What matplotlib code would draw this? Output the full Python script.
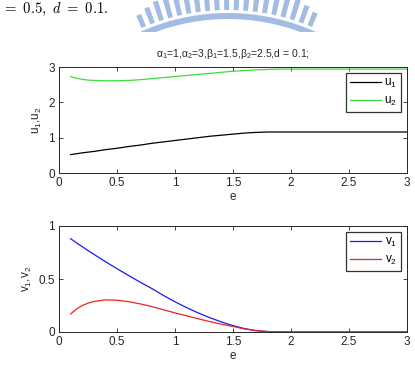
import numpy as np
import matplotlib
matplotlib.use('Agg')
import matplotlib.pyplot as plt
from matplotlib.patches import Polygon

plt.rcParams['font.family'] = ['Liberation Sans', 'DejaVu Sans']
plt.rcParams['mathtext.fontset'] = 'custom'
plt.rcParams['mathtext.rm'] = 'Liberation Sans'
plt.rcParams['mathtext.it'] = 'Liberation Sans:italic'

# data
e = [0.1, 0.15, 0.2, 0.25, 0.3, 0.4, 0.5, 0.6, 0.7, 0.8, 0.9, 1.0, 1.1, 1.2,
     1.3, 1.4, 1.5, 1.6, 1.7, 1.8, 1.9, 2.0, 2.5, 3.0]
u1 = [0.52, 0.545, 0.57, 0.59, 0.61, 0.66, 0.70, 0.75, 0.79, 0.84, 0.88, 0.92,
      0.96, 1.00, 1.04, 1.07, 1.10, 1.13, 1.15, 1.16, 1.16, 1.16, 1.16, 1.16]
u2 = [2.73, 2.685, 2.65, 2.63, 2.62, 2.61, 2.61, 2.62, 2.64, 2.67, 2.70, 2.73,
      2.76, 2.79, 2.82, 2.85, 2.88, 2.90, 2.92, 2.93, 2.94, 2.94, 2.94, 2.94]
v1 = [0.88, 0.842, 0.805, 0.768, 0.733, 0.664, 0.597, 0.533, 0.47, 0.41, 0.345,
      0.285, 0.23, 0.18, 0.135, 0.095, 0.06, 0.032, 0.013, 0.004, 0.001, 0.0,
      0.0, 0.0]
v2 = [0.17, 0.215, 0.25, 0.272, 0.288, 0.303, 0.30, 0.286, 0.265, 0.24, 0.21,
      0.18, 0.153, 0.125, 0.098, 0.074, 0.052, 0.029, 0.012, 0.004, 0.001, 0.0,
      0.0, 0.0]
xticks = [0, 0.5, 1, 1.5, 2, 2.5, 3]
xticklabels = ['0', '0.5', '1', '1.5', '2', '2.5', '3']

fig = plt.figure(figsize=(4.15, 3.65), dpi=100)

# scanned page bits: line of text and the watermark at the top
fig.text(0.004, 1 - 12.5 / 365, r'$=\ 0.5,\ d\ =\ 0.1.$', fontsize=10.5,
         math_fontfamily='cm', va='baseline', ha='left')

wax = fig.add_axes([0, 333 / 365, 1, 32 / 365])
wax.set_xlim(0, 415)
wax.set_ylim(32, 0)
wax.axis('off')
wm = '#a3bce3'
cx, cy = 228, 227


def arc_poly(r0, r1, a0, a1):
    th = np.radians(np.linspace(a0, a1, 20))
    outer = np.c_[cx + r1 * np.sin(th), cy - r1 * np.cos(th)]
    inner = np.c_[cx + r0 * np.sin(th[::-1]), cy - r0 * np.cos(th[::-1])]
    return np.vstack([outer, inner])


wax.add_patch(Polygon(arc_poly(208, 214, -25, 25), color=wm, lw=0))
for a in np.arange(-23.5, 22.5, 2.5):
    mid = abs(a + 0.6)
    wax.add_patch(Polygon(arc_poly(217, 248 - 18 * (mid / 23) ** 2, a, a + 1.3),
                          color=wm, lw=0))

tc = '#262626'


def style(ax, ylim, yticks, yticklabels, ylabel):
    ax.set_xlim(0, 3)
    ax.set_ylim(*ylim)
    ax.set_xticks(xticks)
    ax.set_xticklabels(xticklabels)
    ax.set_yticks(yticks)
    ax.set_yticklabels(yticklabels)
    ax.tick_params(direction='in', length=3, width=0.6, top=True, right=True,
                   labelsize=8.5, colors=tc, pad=3)
    for sp in ax.spines.values():
        sp.set_linewidth(0.7)
        sp.set_color(tc)
    ax.set_xlabel('e', fontsize=8.5, color=tc, labelpad=1)
    ax.set_ylabel(ylabel, fontsize=8.5, color=tc, labelpad=3)
    leg = ax.legend(loc='upper right', fontsize=8.5, frameon=True, fancybox=False,
                    handlelength=2.6, borderpad=0.35, labelspacing=0.4,
                    handletextpad=0.3, borderaxespad=0.5)
    leg.get_frame().set_edgecolor('black')
    leg.get_frame().set_linewidth(0.9)


ax1 = fig.add_axes([59 / 415, 192 / 365, 348 / 415, 106 / 365])
ax1.plot(e, u1, color='black', lw=0.9, label=r'u$_1$')
ax1.plot(e, u2, color='#3ddd3d', lw=0.9, label=r'u$_2$')
style(ax1, (0, 3), [0, 1, 2, 3], ['0', '1', '2', '3'], r'u$_1$,u$_2$')
ax1.set_title(r'α$_1$=1,α$_2$=3,β$_1$=1.5,β$_2$=2.5,d = 0.1;',
              fontsize=7.5, color=tc, pad=7)

ax2 = fig.add_axes([59 / 415, 33 / 365, 348 / 415, 106 / 365])
ax2.plot(e, v1, color='#1a1aee', lw=0.9, label=r'v$_1$')
ax2.plot(e, v2, color='#ee2222', lw=0.9, label=r'v$_2$')
style(ax2, (0, 1), [0, 0.5, 1], ['0', '0.5', '1'], r'v$_1$,v$_2$')

fig.savefig('out.png', dpi=100)
